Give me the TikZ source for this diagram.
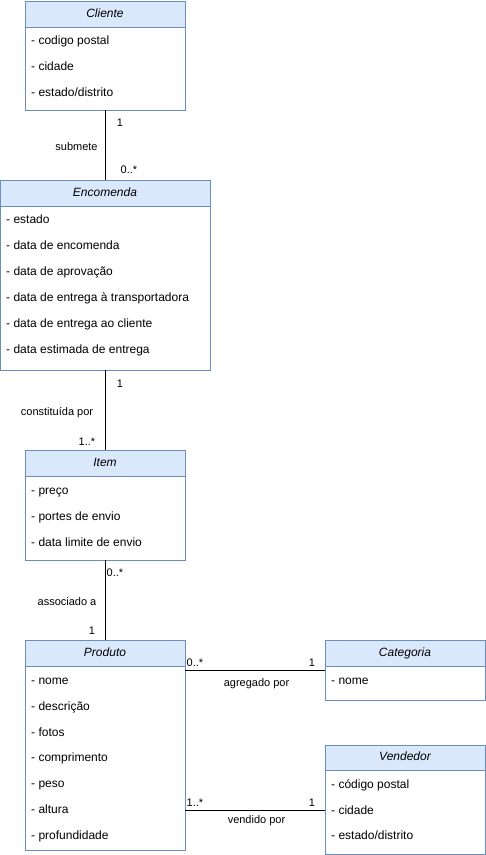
\documentclass[tikz,border=0pt]{standalone}
\usepackage{fontspec}
\setmainfont{Liberation Sans}
\definecolor{headfill}{HTML}{DAE8FC}
\definecolor{headline}{HTML}{6C8EBF}
\tikzset{
  classhead/.style={draw=headline, fill=headfill, line width=1pt, anchor=north west, inner sep=0pt, outer sep=0pt, text height=8.6pt, text depth=2.4pt, font=\fontsize{12}{14}\selectfont\itshape},
  classbody/.style={draw=headline, fill=white, line width=1pt, anchor=north west, inner sep=0pt, outer sep=0pt},
  attr/.style={anchor=base west, inner sep=0pt, font=\fontsize{12}{14}\selectfont},
  mult/.style={anchor=base, inner sep=0pt, font=\fontsize{11}{13}\selectfont},
  assoc/.style={line width=1pt}
}
\begin{document}
\begin{tikzpicture}[x=1pt, y=-1pt]
    \useasboundingbox (0,0) rectangle (486,855);

    % Cliente
    \node[classhead, minimum width=160pt, minimum height=26pt] (clihead) at (25,1) {Cliente};
    \node[classbody, minimum width=160pt, minimum height=83pt] (clibody) at (25,27) {};
    \foreach \t [count=\i] in {codigo postal, cidade, estado/distrito} {
        \node[attr] (cli-\i) at (31, {44.5+25.8*(\i-1)}) {- \t};
    }

    % Encomenda
    \node[classhead, minimum width=210pt, minimum height=26pt] (enchead) at (0,180) {Encomenda};
    \node[classbody, minimum width=210pt, minimum height=164pt] (encbody) at (0,206) {};
    \foreach \t [count=\i] in {estado, data de encomenda, data de aprovação, data de entrega à transportadora, data de entrega ao cliente, data estimada de entrega} {
        \node[attr] (enc-\i) at (6, {223.5+25.9*(\i-1)}) {- \t};
    }

    % Item
    \node[classhead, minimum width=160pt, minimum height=26pt] (itemhead) at (25,450) {Item};
    \node[classbody, minimum width=160pt, minimum height=84pt] (itembody) at (25,476) {};
    \foreach \t [count=\i] in {preço, portes de envio, data limite de envio} {
        \node[attr] (item-\i) at (31, {494.5+25.8*(\i-1)}) {- \t};
    }

    % Produto
    \node[classhead, minimum width=160pt, minimum height=26pt] (prodhead) at (25,640) {Produto};
    \node[classbody, minimum width=160pt, minimum height=184pt] (prodbody) at (25,666) {};
    \foreach \t [count=\i] in {nome, descrição, fotos, comprimento, peso, altura, profundidade} {
        \node[attr] (prod-\i) at (31, {684.5+25.8*(\i-1)}) {- \t};
    }

    % Categoria
    \node[classhead, minimum width=160pt, minimum height=26pt] (cathead) at (325,640) {Categoria};
    \node[classbody, minimum width=160pt, minimum height=34pt] (catbody) at (325,666) {};
    \node[attr] (cat-1) at (331,684.5) {- nome};

    % Vendedor
    \node[classhead, minimum width=160pt, minimum height=25pt] (vendhead) at (325,745) {Vendedor};
    \node[classbody, minimum width=160pt, minimum height=84pt] (vendbody) at (325,770) {};
    \foreach \t [count=\i] in {código postal, cidade, estado/distrito} {
        \node[attr] (vend-\i) at (331, {788.5+25.5*(\i-1)}) {- \t};
    }

    % Associations
    \coordinate (agr) at (325,670.5);
    \coordinate (vdp) at (325,810);
    \draw[assoc] (clibody.south) -- (enchead.north);
    \draw[assoc] (encbody.south) -- (itemhead.north);
    \draw[assoc] (itembody.south) -- (prodhead.north);
    \draw[assoc] (prodbody.east |- agr) -- (catbody.west |- agr);
    \draw[assoc] (prodbody.east |- vdp) -- (vendbody.west |- vdp);

    % Labels
    \node[mult] (m1) at (120,126) {1};
    \node[mult] (l1) at (76.5,150) {submete};
    \node[mult] (m2) at (129,173) {0..*};
    \node[mult] (m3) at (120,387) {1};
    \node[mult] (l2) at (57,415) {constituída por};
    \node[mult] (m4) at (87,445) {1..*};
    \node[mult] (m5) at (115,576) {0..*};
    \node[mult] (l3) at (67,605) {associado a};
    \node[mult] (m6) at (92,634) {1};
    \node[mult] (m7) at (195,666) {0..*};
    \node[mult] (m8) at (312,666) {1};
    \node[mult] (l4) at (256.5,686) {agregado por};
    \node[mult] (m9) at (195,806) {1..*};
    \node[mult] (m10) at (312,806) {1};
    \node[mult] (l5) at (256.5,823) {vendido por};
\end{tikzpicture}
\end{document}
